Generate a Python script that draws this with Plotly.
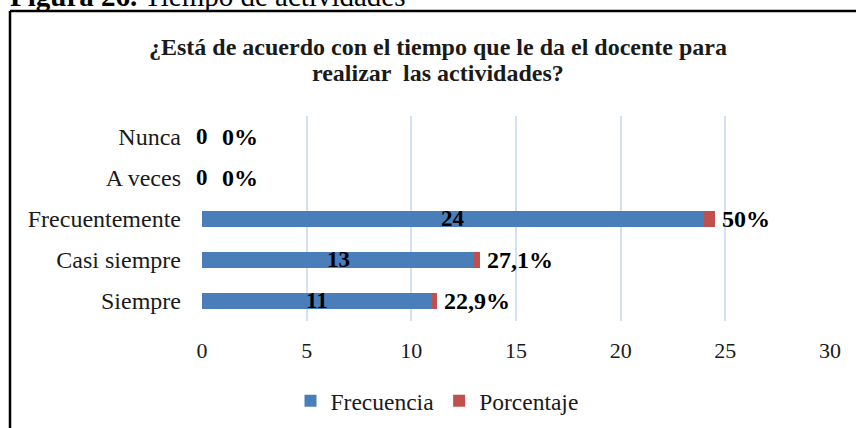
import plotly.graph_objects as go

categorias = ["Siempre", "Casi siempre", "Frecuentemente", "A veces", "Nunca"]
frecuencia = [11, 13, 24, 0, 0]
porcentaje = [0.229, 0.271, 0.5, 0.0, 0.0]
porcentaje_txt = ["22,9%", "27,1%", "50%", "0%", "0%"]
ticks_x = [0, 5, 10, 15, 20, 25, 30]

SERIF = "Liberation Serif"
BLUE = "#4a7ebb"
RED = "#c0504d"

L, R, T, B = 202, 26, 116, 107
PW, PH = 856 - L - R, 428 - T - B


def px(x):
    return (x - L) / PW


def py(y):
    return (428 - B - y) / PH


fig = go.Figure()
fig.add_trace(go.Bar(
    y=categorias, x=frecuencia, orientation="h", name="Frecuencia",
    marker=dict(color=BLUE, line=dict(width=0)), width=0.39,
))
fig.add_trace(go.Bar(
    y=categorias, x=porcentaje, orientation="h", name="Porcentaje",
    marker=dict(color=RED, line=dict(width=0)), width=0.39,
))

annotations = []
for c, f, p, t in zip(categorias, frecuencia, porcentaje, porcentaje_txt):
    annotations.append(dict(
        x=f / 2, y=c, xref="x", yref="y", text=f"<b>{f}</b>", showarrow=False,
        font=dict(family=SERIF, size=23, color="#000000"), xanchor="center",
    ))
    annotations.append(dict(
        x=f + p, y=c, xref="x", yref="y", text=f"<b>{t}</b>", showarrow=False,
        font=dict(family=SERIF, size=24, color="#000000"), xanchor="left",
        xshift=5 if f > 0 else 18,
    ))

annotations.append(dict(
    x=px(8), y=py(-4), xref="paper", yref="paper", xanchor="left", yanchor="middle",
    showarrow=False,
    text="<b>Figura 26.</b> Tiempo de actividades",
    font=dict(family=SERIF, size=29, color="#000000"),
))
annotations.append(dict(
    x=px(438), y=py(47), xref="paper", yref="paper", xanchor="center", yanchor="middle",
    showarrow=False,
    text="<b>¿Está de acuerdo con el tiempo que le da el docente para</b>",
    font=dict(family=SERIF, size=24, color="#1a1a1a"),
))
annotations.append(dict(
    x=px(438), y=py(73), xref="paper", yref="paper", xanchor="center", yanchor="middle",
    showarrow=False,
    text="<b>realizar  las actividades?</b>",
    font=dict(family=SERIF, size=24, color="#1a1a1a"),
))

fig.update_layout(
    width=856, height=428,
    margin=dict(l=L, r=R, t=T, b=B, autoexpand=False),
    paper_bgcolor="white", plot_bgcolor="white",
    barmode="stack",
    showlegend=True,
    xaxis=dict(
        range=[0, 30], tickvals=ticks_x, showgrid=True, gridcolor="#d5e1f0",
        gridwidth=2, zeroline=False, showline=False, ticks="",
        tickfont=dict(family=SERIF, size=22, color="#1a1a1a"),
        ticklabelstandoff=14, fixedrange=True, automargin=False,
    ),
    yaxis=dict(
        categoryorder="array", categoryarray=categorias, showgrid=False,
        zeroline=False, showline=False, ticks="",
        tickfont=dict(family=SERIF, size=24, color="#1a1a1a"),
        ticklabelstandoff=20, automargin=False, fixedrange=True,
    ),
    legend=dict(
        orientation="h", xref="container", yref="container",
        x=437 / 856, xanchor="center", y=1 - 401 / 428, yanchor="middle",
        font=dict(family=SERIF, size=23.5, color="#1a1a1a"),
        itemwidth=30, traceorder="normal",
    ),
    annotations=annotations,
    shapes=[
        dict(type="line", xref="paper", yref="paper", x0=px(10), x1=px(870),
             y0=py(11), y1=py(11), line=dict(color="#000000", width=2.5)),
        dict(type="line", xref="paper", yref="paper", x0=px(10), x1=px(10),
             y0=py(11), y1=py(440), line=dict(color="#000000", width=2.5)),
    ],
)

fig.write_html(
    "out.html",
    config={"displayModeBar": False},
    post_script="document.body.style.margin='0';document.body.style.padding='0';",
)
